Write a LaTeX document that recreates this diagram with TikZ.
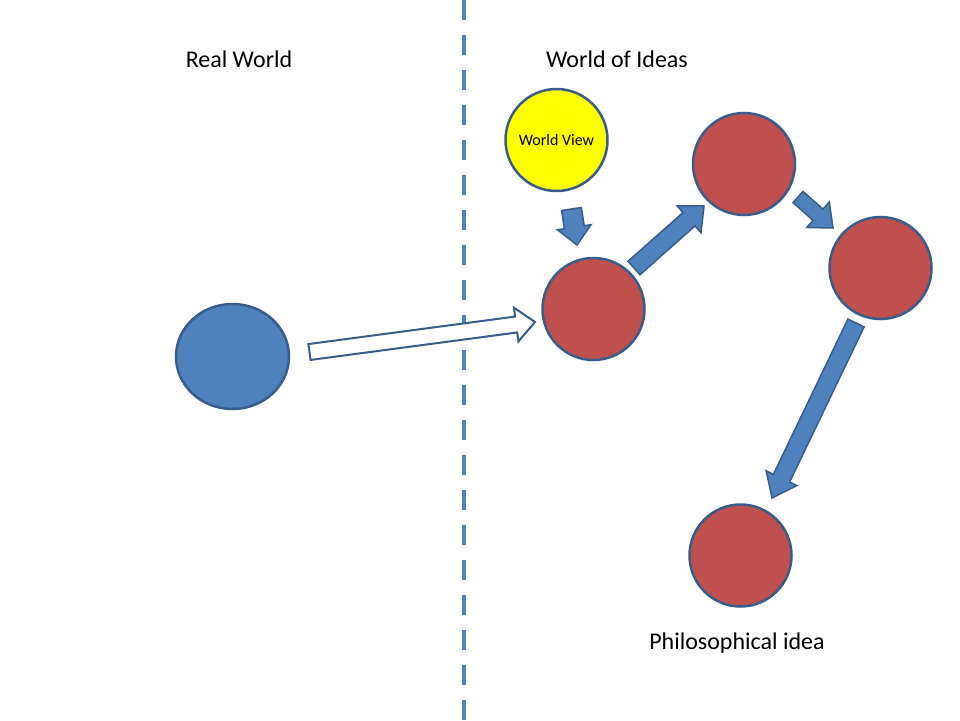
\documentclass[tikz,border=0pt]{standalone}
\usepackage{fontspec}
\setmainfont{Carlito}
\usetikzlibrary{calc,shapes.geometric}
\definecolor{accentblue}{HTML}{4F81BD}
\definecolor{edgeblue}{HTML}{385D8A}
\definecolor{ideared}{HTML}{C0504D}
\definecolor{viewyellow}{HTML}{FFFF00}
\tikzset{
  idea/.style={circle, minimum size=102pt, inner sep=0pt, fill=ideared, draw=edgeblue, line width=2.5pt},
  thing/.style={ellipse, minimum width=113pt, minimum height=105pt, inner sep=0pt, fill=accentblue, draw=edgeblue, line width=2.5pt},
  view/.style={circle, minimum size=102pt, inner sep=0pt, fill=viewyellow, draw=edgeblue, line width=2.5pt, font=\fontsize{16}{19}\selectfont},
  heading/.style={font=\fontsize{24}{29}\selectfont, text=black},
  blockarrowstyle/.style={fill=accentblue, draw=edgeblue, line width=1.5pt, line join=miter},
  hollowarrowstyle/.style={fill=white, draw=edgeblue, line width=2pt, line join=miter},
  divider/.style={draw=accentblue, line width=4pt, dash pattern=on 20pt off 15pt}
}
% block arrow: #1 tail, #2 tip, #3 shaft half-width, #4 head half-width, #5 head length, #6 style
\newcommand{\blockarrow}[6]{%
  \coordinate (headbase) at ($(#2)!#5!(#1)$);
  \path[#6] ($(#1)!#3!90:(#2)$) -- ($(headbase)!#3!90:(#2)$) -- ($(headbase)!#4!90:(#2)$)
    -- (#2) -- ($(headbase)!#4!-90:(#2)$) -- ($(headbase)!#3!-90:(#2)$) -- ($(#1)!#3!-90:(#2)$) -- cycle;
}
\begin{document}
\begin{tikzpicture}[x=1pt, y=-1pt]
  \useasboundingbox (0,0) rectangle (960,720);
  \fill[white] (0,0) rectangle (960,720);

  % dividing line between the two worlds
  \coordinate (divtop) at (464,0);
  \coordinate (divbottom) at (464,720);
  \path[divider] (divtop) -- (divbottom);

  % headings
  \node[heading] (realtitle) at (239,59) {Real World};
  \node[heading] (ideatitle) at (617,59) {World of Ideas};
  \node[heading] (philtitle) at (737,643) {Philosophical idea};

  % shapes
  \node[thing] (object) at (232.5,356.5) {};
  \node[view] (worldview) at (556.5,140) {World View};
  \node[idea] (c1) at (593.5,309) {};
  \node[idea] (c2) at (744,164) {};
  \node[idea] (c3) at (880.5,268) {};
  \node[idea] (c4) at (740.5,555.5) {};

  % arrow endpoints
  \coordinate (perceivetail) at ($(object)+(77,-4.5)$);
  \coordinate (perceivetip) at ($(c1)+(-58.5,13)$);
  \coordinate (viewtail) at ($(worldview)+(15,69)$);
  \coordinate (viewtip) at ($(c1)+(-16.5,-64)$);
  \coordinate (a1tail) at ($(c1)+(40.5,-41)$);
  \coordinate (a1tip) at ($(c2)+(-40,42)$);
  \coordinate (a2tail) at ($(c2)+(54,33)$);
  \coordinate (a2tip) at ($(c3)+(-47.5,-40)$);
  \coordinate (a3tail) at ($(c3)+(-24.5,55)$);
  \coordinate (a3tip) at ($(c4)+(31.5,-57.5)$);

  % arrows
  \blockarrow{perceivetail}{perceivetip}{8pt}{17pt}{19pt}{hollowarrowstyle}
  \blockarrow{viewtail}{viewtip}{10pt}{17pt}{18pt}{blockarrowstyle}
  \blockarrow{a1tail}{a1tip}{9pt}{18pt}{20pt}{blockarrowstyle}
  \blockarrow{a2tail}{a2tip}{7.5pt}{17pt}{20pt}{blockarrowstyle}
  \blockarrow{a3tail}{a3tip}{9pt}{17pt}{22pt}{blockarrowstyle}
\end{tikzpicture}
\end{document}
